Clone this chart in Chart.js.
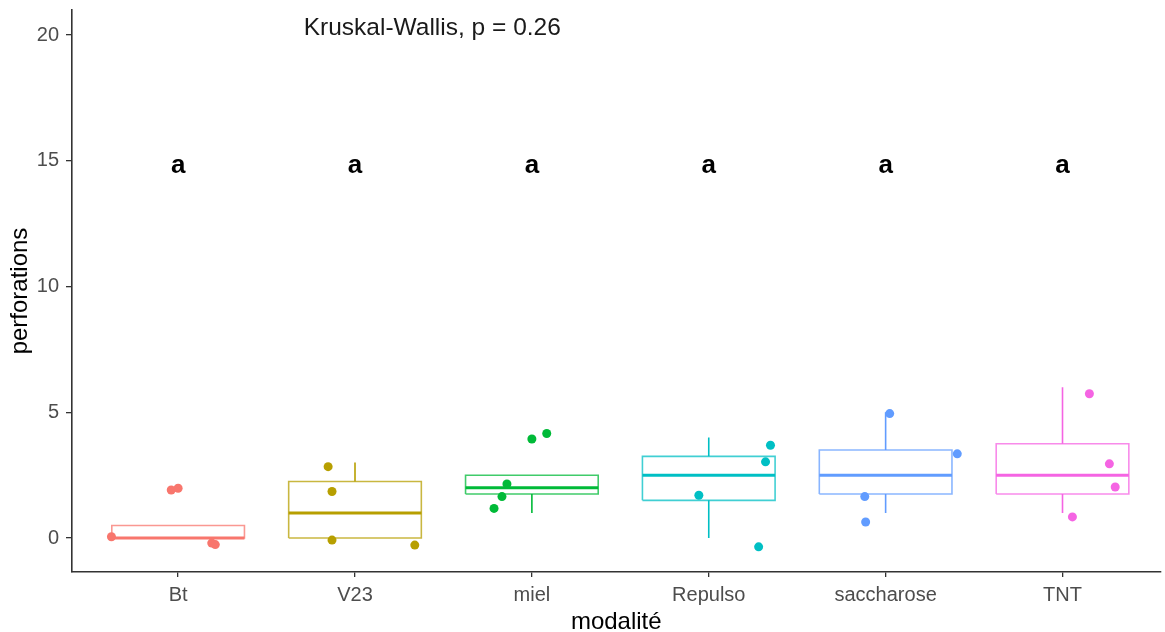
<!DOCTYPE html>
<html>
<head>
<meta charset="utf-8">
<script src="https://cdn.jsdelivr.net/npm/chart.js@4"></script>
<style>
  html, body { margin: 0; padding: 0; background: #fff; }
  #wrap { width: 1165px; height: 632px; }
</style>
</head>
<body>
<div id="wrap"><canvas id="myChart"></canvas></div>
<script>
const categories = ['Bt', 'V23', 'miel', 'Repulso', 'saccharose', 'TNT'];
const colors = ['#F8766D', '#B79F00', '#00BA38', '#00BFC4', '#619CFF', '#F564E3'];
const boxColors = ['rgba(248,118,109,0.75)', 'rgba(183,159,0,0.75)', 'rgba(0,186,56,0.75)', 'rgba(0,191,196,0.75)', 'rgba(97,156,255,0.75)', 'rgba(245,100,227,0.75)'];

// boxplot stats per category
const whiskerLow = [0, 0, 1, 0, 1, 1];
const q1 = [0, 0, 1.75, 1.5, 1.75, 1.75];
const median = [0, 1, 2, 2.5, 2.5, 2.5];
const q3 = [0.5, 2.25, 2.5, 3.25, 3.5, 3.75];
const whiskerHigh = [0.5, 3, 2.5, 4, 5, 6];

// jittered observations
const pointValues = [
  [0.05, 1.91, 1.98, -0.2, -0.26],
  [2.84, 1.85, -0.08, -0.28],
  [3.94, 4.16, 2.15, 1.65, 1.18],
  [3.69, 3.03, 1.7, -0.35],
  [4.95, 3.35, 1.65, 0.64],
  [5.74, 2.95, 2.03, 0.84]
];
const pointJitter = [
  [-0.377, -0.039, 0, 0.19, 0.21],
  [-0.152, -0.13, -0.13, 0.338],
  [0, 0.084, -0.141, -0.169, -0.214],
  [0.349, 0.321, -0.056, 0.282],
  [0.023, 0.405, -0.118, -0.113],
  [0.152, 0.265, 0.298, 0.056]
];

const groupLetters = ['a', 'a', 'a', 'a', 'a', 'a'];
const letterY = 15;
const testLabel = 'Kruskal-Wallis, p = 0.26';
const yTicks = [0, 5, 10, 15, 20];

const FONT = "'Liberation Sans', Arial, sans-serif";
const half = 0.375;

function line(pts, color, width, order) {
  return {
    data: pts, showLine: true, borderColor: color, borderWidth: width,
    pointRadius: 0, fill: false, order: order, borderJoinStyle: 'miter'
  };
}

var datasets = [];
categories.forEach(function (c, i) {
  var x = i + 1;
  datasets.push({
    data: pointValues[i].map(function (v, k) { return { x: x + pointJitter[i][k], y: v }; }),
    backgroundColor: colors[i], borderWidth: 0, pointRadius: 4.5, order: 0
  });
  datasets.push(line([
    { x: x - half, y: q1[i] }, { x: x + half, y: q1[i] },
    { x: x + half, y: q3[i] }, { x: x - half, y: q3[i] }, { x: x - half, y: q1[i] }
  ], boxColors[i], 1.6, 2));
  datasets.push(line([{ x: x - half, y: median[i] }, { x: x + half, y: median[i] }], colors[i], 3, 1));
  if (whiskerHigh[i] > q3[i]) datasets.push(line([{ x: x, y: q3[i] }, { x: x, y: whiskerHigh[i] }], colors[i], 1.6, 2));
  if (whiskerLow[i] < q1[i]) datasets.push(line([{ x: x, y: whiskerLow[i] }, { x: x, y: q1[i] }], colors[i], 1.6, 2));
});

const annotations = {
  id: 'annotations',
  afterDatasetsDraw(chart) {
    const ctx = chart.ctx, xs = chart.scales.x, ys = chart.scales.y;
    ctx.save();
    ctx.fillStyle = '#000';
    ctx.font = 'bold 26px ' + FONT;
    ctx.textAlign = 'center';
    ctx.textBaseline = 'alphabetic';
    groupLetters.forEach(function (l, i) {
      ctx.fillText(l, xs.getPixelForValue(i + 1), ys.getPixelForValue(letterY) + 12);
    });
    ctx.fillStyle = '#1a1a1a';
    ctx.font = '24.5px ' + FONT;
    ctx.textAlign = 'left';
    ctx.fillText(testLabel, xs.getPixelForValue(1.71), ys.getPixelForValue(20));
    ctx.restore();
  }
};

const ctx = document.getElementById('myChart');

new Chart(ctx, {
  type: 'scatter',
  data: { datasets: datasets },
  plugins: [annotations],
  options: {
    responsive: true,
    maintainAspectRatio: false,
    animation: false,
    layout: { padding: { top: 10, right: 0, bottom: 0, left: 0 } },
    plugins: {
      legend: { display: false },
      tooltip: { enabled: false }
    },
    scales: {
      x: {
        type: 'linear',
        min: 0.4,
        max: 6.554,
        afterBuildTicks: function (s) { s.ticks = categories.map(function (c, i) { return { value: i + 1 }; }); },
        afterFit: function (s) { s.height = 60; s.paddingLeft = 0; s.paddingRight = 0; },
        ticks: {
          callback: function (v) { return categories[v - 1]; },
          color: '#4D4D4D',
          font: { family: FONT, size: 20 },
          padding: 6,
          maxRotation: 0
        },
        grid: { drawOnChartArea: false, drawTicks: true, tickLength: 5, color: '#333', lineWidth: 1.3 },
        border: { display: true, color: '#333', width: 1.6 },
        title: {
          display: true, text: 'modalité', color: '#000',
          font: { family: FONT, size: 24 }, padding: { top: 0, bottom: -5 }
        }
      },
      y: {
        min: -1.35,
        max: 21.0,
        afterBuildTicks: function (s) { s.ticks = yTicks.map(function (v) { return { value: v }; }); },
        afterFit: function (s) { s.width = 72; s.paddingTop = 0; s.paddingBottom = 0; },
        ticks: {
          color: '#4D4D4D',
          font: { family: FONT, size: 20 },
          padding: 7
        },
        grid: { drawOnChartArea: false, drawTicks: true, tickLength: 6, color: '#333', lineWidth: 1.3 },
        border: { display: true, color: '#333', width: 1.6 },
        title: {
          display: true, text: 'perforations', color: '#000',
          font: { family: FONT, size: 24 }, padding: { top: 6, bottom: 0 }
        }
      }
    }
  }
});
</script>
</body>
</html>
